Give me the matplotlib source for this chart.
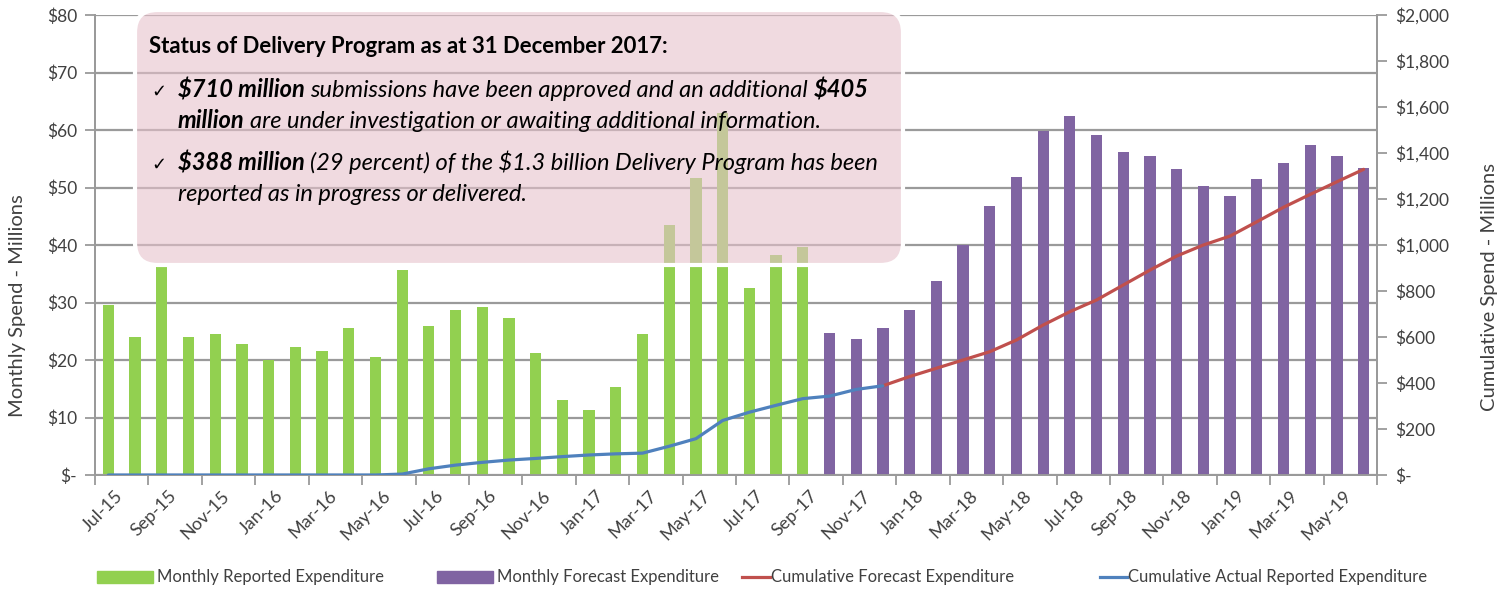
import matplotlib
matplotlib.use("Agg")
import matplotlib.pyplot as plt
from matplotlib.patches import FancyBboxPatch, Rectangle
from matplotlib.lines import Line2D
from matplotlib.transforms import ScaledTranslation
import numpy as np

# ---------------- data ----------------
months = ["Jul-15", "Aug-15", "Sep-15", "Oct-15", "Nov-15", "Dec-15",
          "Jan-16", "Feb-16", "Mar-16", "Apr-16", "May-16", "Jun-16",
          "Jul-16", "Aug-16", "Sep-16", "Oct-16", "Nov-16", "Dec-16",
          "Jan-17", "Feb-17", "Mar-17", "Apr-17", "May-17", "Jun-17",
          "Jul-17", "Aug-17", "Sep-17", "Oct-17", "Nov-17", "Dec-17",
          "Jan-18", "Feb-18", "Mar-18", "Apr-18", "May-18", "Jun-18",
          "Jul-18", "Aug-18", "Sep-18", "Oct-18", "Nov-18", "Dec-18",
          "Jan-19", "Feb-19", "Mar-19", "Apr-19", "May-19", "Jun-19"]

# Monthly reported expenditure, Jul-15 .. Sep-17 ($M)
reported = [29.6, 24.0, 36.9, 24.0, 24.5, 22.8, 20.0, 22.2, 21.5, 25.6,
            20.6, 35.6, 25.9, 28.7, 29.3, 27.3, 21.2, 13.0, 11.3, 15.3,
            24.5, 43.5, 51.6, 63.0, 32.6, 38.3, 39.6]
# Monthly forecast expenditure, Oct-17 .. Jun-19 ($M)
forecast = [24.7, 23.6, 25.6, 28.7, 33.7, 40.0, 46.8, 51.8, 59.8, 62.4,
            59.2, 56.2, 55.4, 53.3, 50.3, 48.5, 51.4, 54.3, 57.4, 55.5, 53.4]
# Cumulative actual reported expenditure, Jul-15 .. Dec-17 ($M)
cum_actual = [0, 0, 0, 0, 0, 0, 0, 0, 0, 0, 0, 4, 27, 43, 55, 65, 72, 80,
              87, 92, 95, 125, 158, 237, 273, 303, 332, 343, 372, 388]
# Cumulative forecast expenditure, Dec-17 .. Jun-19 ($M)
cum_forecast = [388, 428, 464, 500, 536, 587, 652, 710, 761, 826, 891, 952,
                1000, 1039, 1101, 1164, 1220, 1275, 1329]

left_ticks = [0, 10, 20, 30, 40, 50, 60, 70, 80]
left_labels = ["$-", "$10", "$20", "$30", "$40", "$50", "$60", "$70", "$80"]
right_ticks = [0, 200, 400, 600, 800, 1000, 1200, 1400, 1600, 1800, 2000]
right_labels = ["$-", "$200", "$400", "$600", "$800", "$1,000", "$1,200",
                "$1,400", "$1,600", "$1,800", "$2,000"]

legend_labels = ["Monthly Reported Expenditure", "Monthly Forecast Expenditure",
                 "Cumulative Forecast Expenditure",
                 "Cumulative Actual Reported Expenditure"]

# ---------------- style ----------------
FONT = ["Lato", "DejaVu Sans"]
plt.rcParams["font.family"] = FONT
GREEN = "#92d050"
PURPLE = "#8064a2"
RED = "#c0504d"
BLUE = "#4f81bd"
GRID = "#9a9a9a"
TXT = "#404040"

W, H = 1504, 589
fig = plt.figure(figsize=(W / 100, H / 100), dpi=100)
fig.patch.set_facecolor("white")

L, R, T, B = 95, 1377, 15, 475
ax = fig.add_axes([L / W, 1 - B / H, (R - L) / W, (B - T) / H])
ax2 = ax.twinx()

n_rep = len(reported)
x_rep = np.arange(n_rep)
x_fc = np.arange(n_rep, n_rep + len(forecast))
bw = 0.42
ax.bar(x_rep, reported, width=bw, color=GREEN, zorder=3)
ax.bar(x_fc, forecast, width=bw, color=PURPLE, zorder=3)

x_ca = np.arange(len(cum_actual))
x_cf = np.arange(len(cum_actual) - 1, len(cum_actual) - 1 + len(cum_forecast))
ax2.plot(x_cf, cum_forecast, color=RED, lw=2.3, zorder=4, solid_capstyle="round")
ax2.plot(x_ca, cum_actual, color=BLUE, lw=2.3, zorder=5, solid_capstyle="round")

ax.set_xlim(-0.5, len(months) - 0.5)
ax.set_ylim(0, 80)
ax2.set_ylim(0, 2000)

ax.set_yticks(left_ticks)
ax.set_yticklabels(left_labels)
ax2.set_yticks(right_ticks)
ax2.set_yticklabels(right_labels)
ax.yaxis.grid(True, color=GRID, lw=1.6, zorder=0)
ax.set_axisbelow(True)

ax.set_xticks(np.arange(0, len(months), 2))
ax.set_xticklabels(months[::2], rotation=45, ha="right", va="center",
                   rotation_mode="anchor")
ax.set_xticks(np.arange(-0.5, len(months), 2), minor=True)
ax.tick_params(axis="x", which="major", length=0, pad=13, labelsize=13, labelcolor=TXT)
ax.tick_params(axis="x", which="minor", length=7, width=1.3, color=GRID)
ax.tick_params(axis="y", length=7, width=1.3, color=GRID, labelsize=12.5,
               labelcolor=TXT, pad=6)
ax2.tick_params(axis="y", length=7, width=1.3, color=GRID, labelsize=12.5,
                labelcolor=TXT, pad=6)
shift = ScaledTranslation(12 / 100, 0, fig.dpi_scale_trans)
for tk in ax.xaxis.get_major_ticks():
    tk.label1.set_transform(tk.label1.get_transform() + shift)

for a in (ax, ax2):
    a.spines["top"].set_visible(False)
    for s in ("left", "right", "bottom"):
        a.spines[s].set_color(GRID)
        a.spines[s].set_linewidth(1.3)

ax.set_ylabel("Monthly Spend - Millions", fontsize=14.5, color=TXT)
ax.yaxis.set_label_coords((18 - L) / (R - L), (B - 306) / (B - T))
ax.yaxis.label.set_va("center")
ax2.set_ylabel("Cumulative Spend - Millions", fontsize=14.5, color=TXT, rotation=90)
ax2.yaxis.set_label_coords((1490 - L) / (R - L), (B - 287) / (B - T))
ax2.yaxis.label.set_va("center")

# ---------------- annotation box ----------------
def fx(px):
    return px / W

def fy(py):
    return 1 - py / H

box = FancyBboxPatch((fx(135), fy(265)), fx(903) - fx(135), fy(10) - fy(265),
                     boxstyle="round,pad=0,rounding_size=0.015",
                     transform=fig.transFigure,
                     facecolor=(0.90, 0.76, 0.80, 0.6),
                     edgecolor="white", lw=3, zorder=10,
                     mutation_aspect=W / H)
fig.add_artist(box)

renderer = fig.canvas.get_renderer()

def run_line(x, y, parts, fs):
    for txt, bold, ital, sp in parts:
        t = fig.text(fx(x), fy(y), txt, fontsize=fs,
                     fontweight="bold" if bold else "normal",
                     fontstyle="italic" if ital else "normal",
                     va="baseline", ha="left", color="black", zorder=11,
                     family=FONT)
        x += t.get_window_extent(renderer).width
        if sp:
            x += fs * 100 / 72 * 0.23

TFS, BFS = 15.9, 17
run_line(149, 53, [("Status of Delivery Program as at 31 December 2017:", True, False, False)], TFS)
fig.text(fx(151), fy(97), "\u2713", fontsize=13, family=["DejaVu Sans"],
         va="baseline", zorder=11)
fig.text(fx(151), fy(170), "\u2713", fontsize=13, family=["DejaVu Sans"],
         va="baseline", zorder=11)
run_line(178, 97, [("$710 million", True, True, True),
                   ("submissions have been approved and an additional", False, True, True),
                   ("$405", True, True, False)], BFS)
run_line(178, 128, [("million", True, True, True),
                    ("are under investigation or awaiting additional information.", False, True, False)], BFS)
run_line(178, 170, [("$388 million", True, True, True),
                    ("(29 percent) of the $1.3 billion Delivery Program has been", False, True, False)], BFS)
run_line(178, 201, [("reported as in progress or delivered.", False, True, False)], BFS)

# ---------------- legend ----------------
LY = 577
LFS = 12
fig.add_artist(Rectangle((fx(97), fy(LY + 6)), fx(153) - fx(97), fy(LY - 6) - fy(LY + 6),
                         transform=fig.transFigure, color=GREEN))
fig.text(fx(157), fy(LY), legend_labels[0], fontsize=LFS, color=TXT, va="center")
fig.add_artist(Rectangle((fx(437), fy(LY + 6)), fx(493) - fx(437), fy(LY - 6) - fy(LY + 6),
                         transform=fig.transFigure, color=PURPLE))
fig.text(fx(497), fy(LY), legend_labels[1], fontsize=LFS, color=TXT, va="center")
fig.add_artist(Line2D([fx(742), fx(770)], [fy(LY), fy(LY)], transform=fig.transFigure,
                      color=RED, lw=2.3))
fig.text(fx(771), fy(LY), legend_labels[2], fontsize=LFS, color=TXT, va="center")
fig.add_artist(Line2D([fx(1100), fx(1127)], [fy(LY), fy(LY)], transform=fig.transFigure,
                      color=BLUE, lw=2.3))
fig.text(fx(1128), fy(LY), legend_labels[3], fontsize=LFS, color=TXT, va="center")

fig.savefig("out.png", dpi=100)
